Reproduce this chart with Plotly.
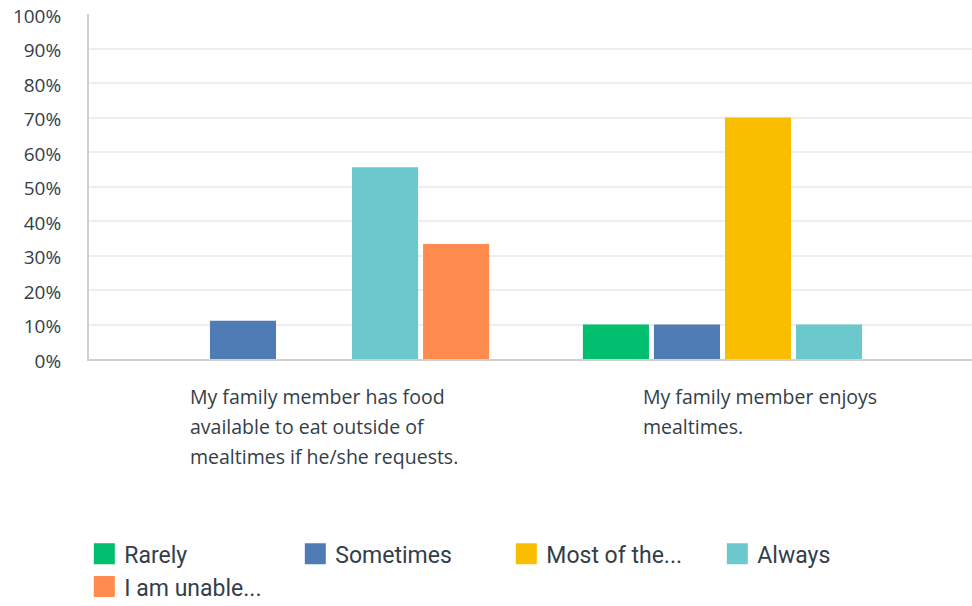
import plotly.graph_objects as go

CATEGORIES = ["q1", "q2"]
CATEGORY_LINES = [
    ["My family member has food", "available to eat outside of", "mealtimes if he/she requests."],
    ["My family member enjoys", "mealtimes."],
]
SERIES = ["Rarely", "Sometimes", "Most of the...", "Always", "I am unable..."]
VALUES = {
    "Rarely": [0.0, 10.0],
    "Sometimes": [11.11, 10.0],
    "Most of the...": [0.0, 70.0],
    "Always": [55.56, 10.0],
    "I am unable...": [33.33, 0.0],
}
COLORS = ["#00BF6F", "#507CB6", "#F9BE00", "#6BC8CD", "#FF8B4F"]
Y_TICKS = list(range(0, 101, 10))

TEXT_COLOR = "#333E48"
LABEL_FONT = "Open Sans"
LEGEND_FONT = "Roboto"

fig = go.Figure()
for name, color in zip(SERIES, COLORS):
    fig.add_trace(
        go.Bar(
            x=CATEGORIES,
            y=VALUES[name],
            name=name,
            marker={"color": color, "line": {"width": 0}},
            showlegend=False,
        )
    )
    # legend-only entry with a bigger swatch than the bar legend allows
    fig.add_trace(
        go.Scatter(
            x=[None],
            y=[None],
            mode="markers",
            name=name,
            marker={
                "symbol": "square",
                "size": 22,
                "color": color,
                "line": {"color": color, "width": 5},
            },
        )
    )

# category labels, left aligned under each group, 30px line spacing
label_shift = {"q1": -126, "q2": -117}
for key, lines in zip(CATEGORIES, CATEGORY_LINES):
    for i, line in enumerate(lines):
        fig.add_annotation(
            x=key,
            xref="x",
            y=-0.064,
            yref="paper",
            text=line,
            showarrow=False,
            xanchor="left",
            yanchor="top",
            align="left",
            xshift=label_shift[key],
            yshift=-30 * i,
            font={"family": LABEL_FONT, "size": 19.5, "color": TEXT_COLOR},
        )

fig.update_layout(
    width=972,
    height=606,
    margin={"l": 89, "r": 0, "t": 14, "b": 247, "autoexpand": False},
    paper_bgcolor="white",
    plot_bgcolor="white",
    barmode="group",
    bargap=0.2,
    bargroupgap=0.07,
    font={"family": LABEL_FONT, "size": 18, "color": TEXT_COLOR},
    xaxis={
        "type": "category",
        "range": [-0.5068, 1.482],
        "showticklabels": False,
        "showgrid": False,
        "showline": True,
        "linecolor": "#D0D0D0",
        "linewidth": 2,
        "ticks": "",
        "automargin": False,
    },
    yaxis={
        "range": [0, 100],
        "tickvals": Y_TICKS,
        "ticktext": [f"{v}%" for v in Y_TICKS],
        "showgrid": True,
        "gridcolor": "#EEEEEE",
        "gridwidth": 2,
        "showline": True,
        "linecolor": "#D0D0D0",
        "linewidth": 2,
        "zeroline": False,
        "ticks": "",
        "ticklabelstandoff": 22,
        "ticklabelshift": 2,
        "ticklabeloverflow": "allow",
        "automargin": False,
        "tickfont": {"family": LABEL_FONT, "size": 19, "color": TEXT_COLOR},
    },
    legend={
        "orientation": "h",
        "x": -0.0053,
        "xanchor": "left",
        "y": -0.502,
        "yanchor": "top",
        "entrywidth": 166,
        "entrywidthmode": "pixels",
        "itemsizing": "trace",
        "font": {"family": LEGEND_FONT, "size": 23, "color": TEXT_COLOR},
    },
)

# drop the browser's default page margin so the figure sits at the window corner
fig.write_html(
    "out.html",
    config={"displayModeBar": False},
    post_script="document.body.style.margin = '0';",
)
